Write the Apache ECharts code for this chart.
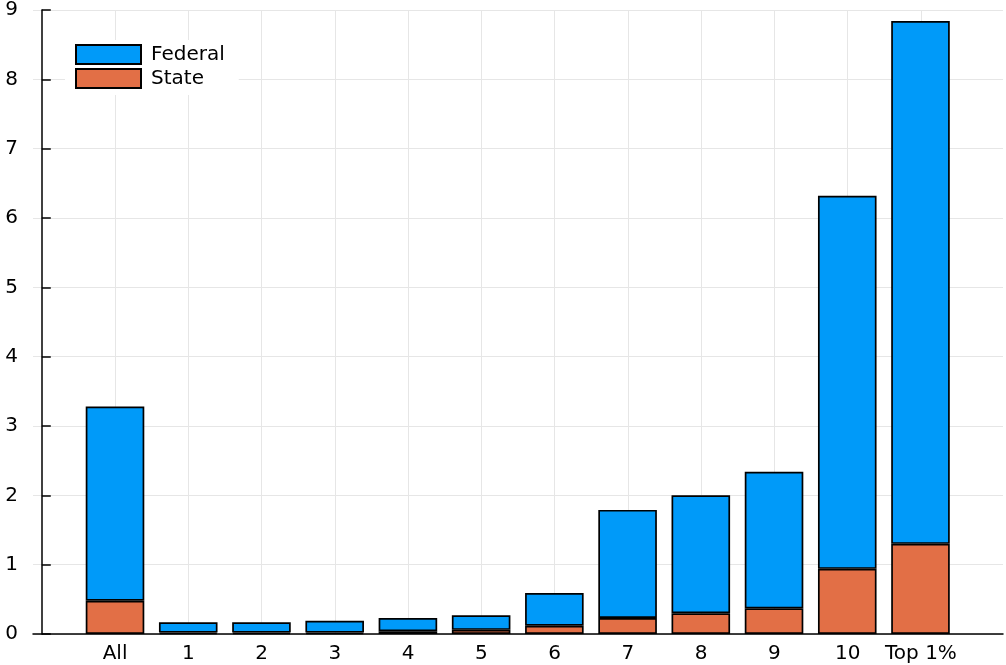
<!DOCTYPE html>
<html>
<head>
<meta charset="utf-8">
<script src="https://cdn.jsdelivr.net/npm/echarts@6/dist/echarts.min.js"></script>
<style>
  html, body { margin: 0; padding: 0; background: #fff; }
  #chart { width: 1006px; height: 665px; }
</style>
</head>
<body>
<div id="chart"></div>
<script>
// categories along the x axis
const categories = ['All', '1', '2', '3', '4', '5', '6', '7', '8', '9', '10', 'Top 1%'];
// state part (bottom of each bar)
const stateValues = [0.48, 0.02, 0.02, 0.02, 0.04, 0.06, 0.12, 0.23, 0.30, 0.37, 0.94, 1.30];
// federal part (stacked on top of state)
const federalValues = [2.80, 0.15, 0.15, 0.17, 0.19, 0.21, 0.47, 1.56, 1.70, 1.97, 5.38, 7.54];
const yMin = 0;
const yMax = 9;

const positions = categories.map((c, i) => i + 1);

const myChart = echarts.init(document.getElementById('chart'));

const font = 'DejaVu Sans';
const gridColor = '#e6e6e6';

// grid 0 holds the visible frame (axes, labels, grid lines),
// grid 1 holds the stacked bars on a category axis lined up with grid 0
myChart.setOption({
    animation: false,
    textStyle: { fontFamily: font },
    grid: [
        { left: 33, right: 3, top: 10, bottom: 31 },
        { left: 78.4, right: 48.9, top: 10, bottom: 31 }
    ],
    legend: {
        orient: 'vertical',
        left: 65,
        top: 40,
        data: ['Federal', 'State'],
        icon: 'rect',
        itemWidth: 65,
        itemHeight: 19,
        itemGap: 3,
        padding: [4, 14, 6, 10],
        backgroundColor: '#fff',
        textStyle: { color: '#000', fontSize: 20, lineHeight: 19, fontFamily: font, padding: [0, 0, 0, 5] }
    },
    xAxis: [
        {
            type: 'value',
            gridIndex: 0,
            min: -0.12,
            max: 13.12,
            axisLine: { show: true, onZero: false, lineStyle: { color: '#000', width: 1.5 } },
            axisTick: { show: false, customValues: positions },
            axisLabel: {
                customValues: positions,
                color: '#000',
                fontSize: 20,
                margin: 10,
                fontFamily: font,
                formatter: function (v) { return categories[Math.round(v) - 1]; }
            },
            splitLine: { show: true, lineStyle: { color: gridColor, width: 1 } }
        },
        {
            type: 'category',
            gridIndex: 1,
            data: categories,
            show: false
        }
    ],
    yAxis: [
        {
            type: 'value',
            gridIndex: 0,
            min: yMin,
            max: yMax,
            interval: 1,
            axisLine: { show: true, lineStyle: { color: '#000', width: 1.5 } },
            axisTick: { show: true, inside: true, length: 9, lineStyle: { color: '#000', width: 1.5 } },
            axisLabel: { color: '#000', fontSize: 20, margin: 15, fontFamily: font },
            splitLine: { show: true, lineStyle: { color: gridColor, width: 1 } }
        },
        {
            type: 'value',
            gridIndex: 1,
            min: yMin,
            max: yMax,
            show: false,
            splitLine: { show: false }
        }
    ],
    series: [
        {
            name: 'State',
            type: 'bar',
            stack: 'total',
            xAxisIndex: 1,
            yAxisIndex: 1,
            barWidth: '80%',
            itemStyle: { color: '#e26f46', borderColor: '#000', borderWidth: 1.7 },
            data: stateValues
        },
        {
            name: 'Federal',
            type: 'bar',
            stack: 'total',
            xAxisIndex: 1,
            yAxisIndex: 1,
            barWidth: '80%',
            itemStyle: { color: '#009af9', borderColor: '#000', borderWidth: 1.7 },
            data: federalValues
        }
    ]
});
</script>
</body>
</html>
